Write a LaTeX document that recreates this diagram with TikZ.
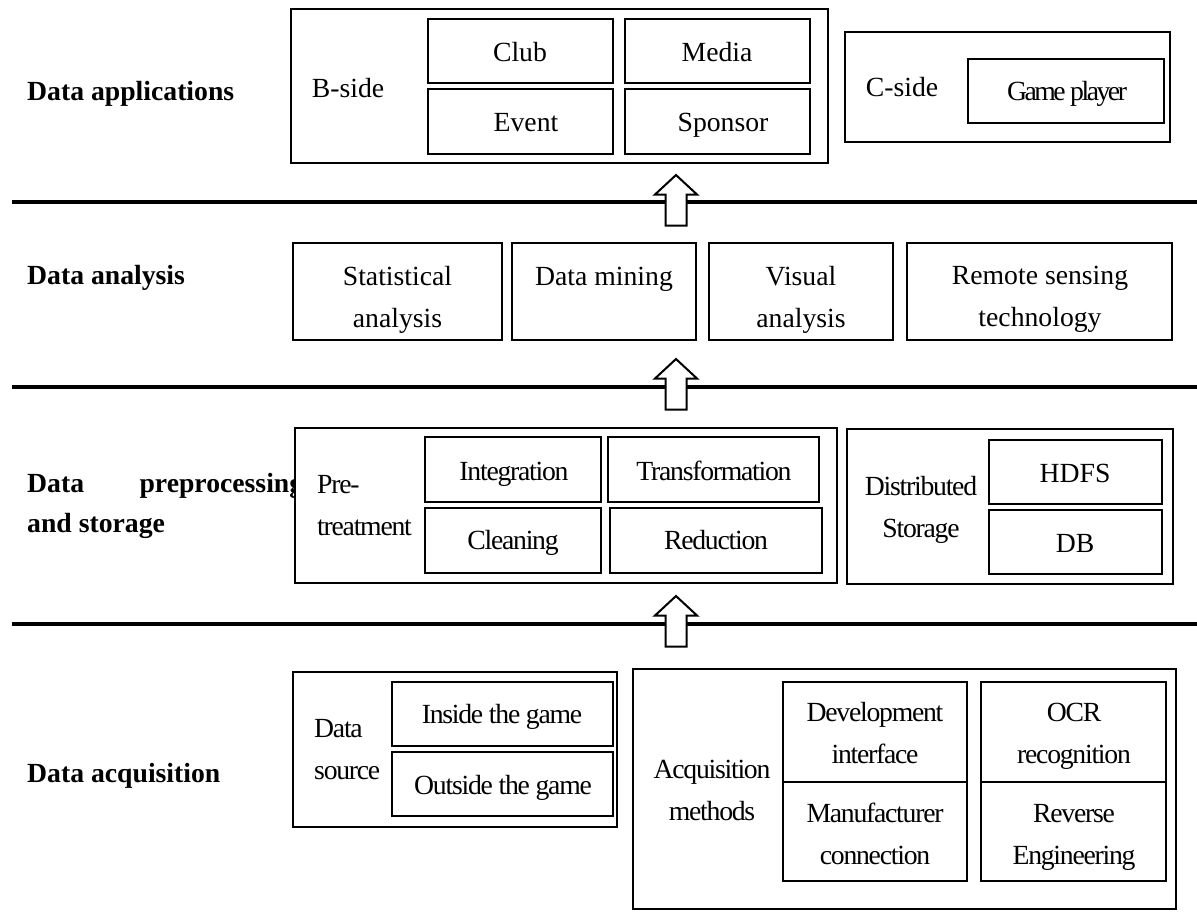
\documentclass[tikz,border=0pt]{standalone}
\usepackage{fontspec}
\setmainfont{Liberation Serif}
\newfontfamily\tightfont[LetterSpace=-4.5]{Liberation Serif}
\newfontfamily\tighterfont[LetterSpace=-9]{Liberation Serif}
\usetikzlibrary{fit}
\tikzset{
  txt/.style={inner sep=0pt, font=\fontsize{27.7}{41.5}\selectfont, align=center, anchor=base},
  ttxt/.style={txt, font=\tightfont\fontsize{27.7}{41.5}\selectfont},
  lbl/.style={inner sep=0pt, font=\bfseries\fontsize{27.7}{40}\selectfont, align=left, anchor=base west},
  obox/.style={draw, fill=white, line width=1.8pt, inner sep=0pt},
  ibox/.style={draw, fill=white, line width=2.6pt, inner sep=0pt},
  abox/.style={draw, fill=white, line width=2.2pt, inner sep=0pt},
  rule/.style={line width=4.2pt},
  blk/.style={draw, fill=white, line width=2pt, line join=miter}
}
\begin{document}
\begin{tikzpicture}[x=1pt,y=-1pt]
\useasboundingbox (0,0) rectangle (1197,911);

% ---- layer labels (anchor = baseline of last line) ----
\node[lbl] (lapp) at (27,100) {Data applications};
\node[lbl] (lana) at (27,284) {Data analysis};
\node[lbl] (lpre) at (27,532) {\makebox[276pt][s]{Data preprocessing}\\and storage};
\node[lbl] (lacq) at (27,782) {Data acquisition};

% ---- rules ----
\coordinate (r1l) at (12,202); \coordinate (r1r) at (1197,202);
\coordinate (r2l) at (12,387); \coordinate (r2r) at (1197,387);
\coordinate (r3l) at (12,624); \coordinate (r3r) at (1197,624);
\draw[rule] (r1l) -- (r1r);
\draw[rule] (r2l) -- (r2r);
\draw[rule] (r3l) -- (r3r);

% ---- Data applications ----
\node[obox, fit={(291,9) (828,163)}] (bside) {};
\node[txt] (tbside) at (348,97) {B-side};
\node[ibox, fit={(428,19) (613,83)}] (club) {};
\node[ibox, fit={(625,19) (810,83)}] (media) {};
\node[ibox, fit={(428,89) (613,154)}] (event) {};
\node[ibox, fit={(625,89) (810,154)}] (sponsor) {};
\node[txt] (tclub) at (520,61) {Club};
\node[txt] (tmedia) at (717,61) {Media};
\node[txt] (tevent) at (526,131) {Event};
\node[txt] (tsponsor) at (723,131) {Sponsor};
\node[obox, fit={(845,32) (1170,142)}] (cside) {};
\node[txt] (tcside) at (902,96) {C-side};
\node[ibox, fit={(968,59) (1164,123)}] (gplayer) {};
\node[txt, font=\tighterfont\fontsize{27.7}{41.5}\selectfont] (tgplayer) at (1067,100) {Game player};

% ---- Data analysis ----
\node[abox, fit={(293,243) (502,340)}] (stat) {};
\node[abox, fit={(512,243) (696,340)}] (mining) {};
\node[abox, fit={(709,243) (893,340)}] (visual) {};
\node[abox, fit={(907,243) (1172,340)}] (remote) {};
\node[txt] (tstat) at (397.5,327) {Statistical\\analysis};
\node[txt] (tmining) at (604,285) {Data mining};
\node[txt] (tvisual) at (801,327) {Visual\\analysis};
\node[txt] (tremote) at (1040,326) {Remote sensing\\technology};

% ---- Data preprocessing and storage ----
\node[obox, fit={(295,428) (837,583)}] (pretreat) {};
\node[ttxt, align=left, anchor=base west] (tpretreat) at (317,535) {Pre-\\treatment};
\node[ibox, fit={(425,437) (601,502)}] (integ) {};
\node[ibox, fit={(608,437) (819,502)}] (transf) {};
\node[ibox, fit={(425,508) (601,573)}] (clean) {};
\node[ibox, fit={(610,508) (822,573)}] (reduc) {};
\node[ttxt] (tinteg) at (514,480) {Integration};
\node[ttxt] (ttransf) at (714,480) {Transformation};
\node[ttxt] (tclean) at (513,549) {Cleaning};
\node[ttxt] (treduc) at (716,549) {Reduction};
\node[obox, fit={(847,429) (1173,584)}] (dstore) {};
\node[ttxt] (tdstore) at (921,537) {Distributed\\Storage};
\node[ibox, fit={(989,440) (1162,504)}] (hdfs) {};
\node[ibox, fit={(989,510) (1162,574)}] (db) {};
\node[txt] (thdfs) at (1075,482) {HDFS};
\node[txt] (tdb) at (1075,552) {DB};

% ---- Data acquisition ----
\node[obox, fit={(293,672) (617,827)}] (dsource) {};
\node[ttxt, align=left, anchor=base west] (tdsource) at (314,779) {Data\\source};
\node[ibox, fit={(392,682) (613,746)}] (inside) {};
\node[ibox, fit={(392,752) (613,816)}] (outside) {};
\node[ttxt] (tinside) at (502,723) {Inside the game};
\node[ttxt] (toutside) at (503,794) {Outside the game};
\node[obox, fit={(633,669) (1176,909)}] (acq) {};
\node[ttxt] (tacq) at (712,820) {Acquisition\\methods};
\node[ibox, fit={(783,682) (967,782)}] (devif) {};
\node[ibox, fit={(783,782) (967,881)}] (manuf) {};
\node[ibox, fit={(981,682) (1166,782)}] (ocr) {};
\node[ibox, fit={(981,782) (1166,881)}] (reverse) {};
\node[ttxt] (tdevif) at (875,763) {Development\\interface};
\node[ttxt] (tmanuf) at (875,864) {Manufacturer\\connection};
\node[ttxt] (tocr) at (1074,763) {OCR\\recognition};
\node[ttxt] (treverse) at (1074,864) {Reverse\\Engineering};

% ---- block arrows ----
\coordinate (a1) at (676,175);
\coordinate (a2) at (676,359);
\coordinate (a3) at (676,596);
\foreach \a in {a1,a2,a3}{
  \draw[blk] (\a) -- ++(21,19.5) -- ++(-10.5,0) -- ++(0,31) -- ++(-21,0) -- ++(0,-31) -- ++(-10.5,0) -- cycle;
}
\end{tikzpicture}
\end{document}
